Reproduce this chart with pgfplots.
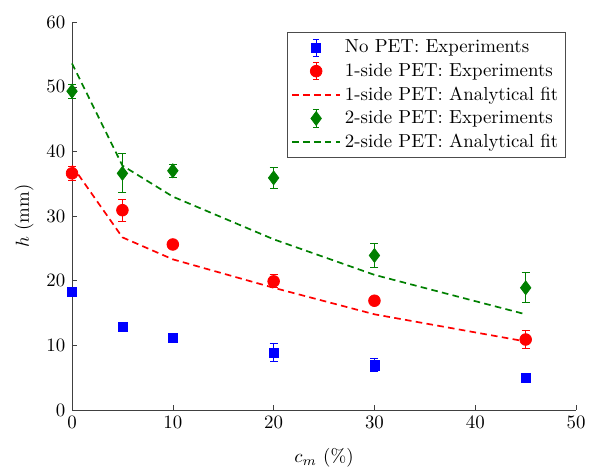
\documentclass[border=0pt]{standalone}
\usepackage{pgfplots}
\pgfplotsset{compat=1.18}
\definecolor{mgreen}{RGB}{0,128,0}

\pgfplotsset{
  errleg/.style={legend image code/.code={
      \draw[##1,solid,mark=none,line width=0.5pt] (0.45cm,-0.16cm)--(0.45cm,0.16cm)
        (0.39cm,-0.16cm)--(0.51cm,-0.16cm) (0.39cm,0.16cm)--(0.51cm,0.16cm);
      \draw[##1] plot coordinates {(0.45cm,0cm)};
    }},
  fitleg/.style={legend image code/.code={
      \draw[##1] (0cm,0cm) -- (0.9cm,0cm);
    }},
}

% x  y  err
\pgfplotstableread{
x y e
0 18.3 0.4
5 12.8 0.5
10 11.2 0.4
20 8.9 1.4
30 6.9 1.0
45 4.9 0.4
}\nopet
\pgfplotstableread{
x y e
0 36.6 1.1
5 30.9 1.7
10 25.6 0.4
20 19.9 1.0
30 16.9 0.4
45 10.9 1.4
}\oneside
\pgfplotstableread{
x y e
0 49.3 1.1
5 36.6 3.0
10 37.0 1.0
20 35.9 1.6
30 23.9 1.8
45 18.9 2.3
}\twoside

\begin{document}
\begin{tikzpicture}
  \begin{axis}[
      scale only axis,
      width=267.4pt, height=205.8pt,
      xmin=0, xmax=50, ymin=0, ymax=60,
      xtick={0,10,...,50},
      ytick={0,10,...,60},
      axis lines=left,
      axis line style={-, black!75},
      tick style={black!75},
      tick align=inside,
      major tick length=2.8pt,
      xlabel={$c_m$ (\%)},
      ylabel={$h$ (mm)},
      xlabel style={yshift=-3.5pt},
      clip=false,
      legend cell align=left,
      legend style={at={(1,1)}, anchor=north east, xshift=-5.3pt, yshift=-5.3pt,
        draw=black!70, row sep=0pt, inner sep=2pt},
      error bars/error bar style={line width=0.5pt},
      error bars/error mark options={rotate=90, mark size=2.1pt, line width=0.5pt},
    ]
    \addplot[errleg, only marks, blue, mark=square*, mark size=2.4pt,
      error bars/.cd, y dir=both, y explicit]
      table[x=x, y=y, y error=e] {\nopet};
    \addlegendentry{No PET: Experiments}

    \addplot[errleg, only marks, red, mark=*, mark size=3.1pt,
      error bars/.cd, y dir=both, y explicit]
      table[x=x, y=y, y error=e] {\oneside};
    \addlegendentry{1-side PET: Experiments}

    \addplot[fitleg, red, line width=0.9pt, dash pattern=on 3.5pt off 2.3pt]
      coordinates {(0,37.8) (5,26.7) (10,23.3) (20,18.9) (30,14.8) (45,10.6)};
    \addlegendentry{1-side PET: Analytical fit}

    \addplot[errleg, only marks, mgreen, mark=diamond*, mark size=3.7pt,
      error bars/.cd, y dir=both, y explicit]
      table[x=x, y=y, y error=e] {\twoside};
    \addlegendentry{2-side PET: Experiments}

    \addplot[fitleg, mgreen, line width=0.9pt, dash pattern=on 3.5pt off 2.3pt]
      coordinates {(0,53.6) (5,37.8) (10,33.0) (20,26.4) (30,20.9) (45,14.8)};
    \addlegendentry{2-side PET: Analytical fit}

    \coordinate (sw) at (rel axis cs:0,0);
    \coordinate (ne) at (rel axis cs:1,1);
  \end{axis}
  \pgfresetboundingbox
  \path ([shift={(-38.2pt,-31.8pt)}]sw) rectangle ([shift={(11.1pt,11.7pt)}]ne);
\end{tikzpicture}
\end{document}
